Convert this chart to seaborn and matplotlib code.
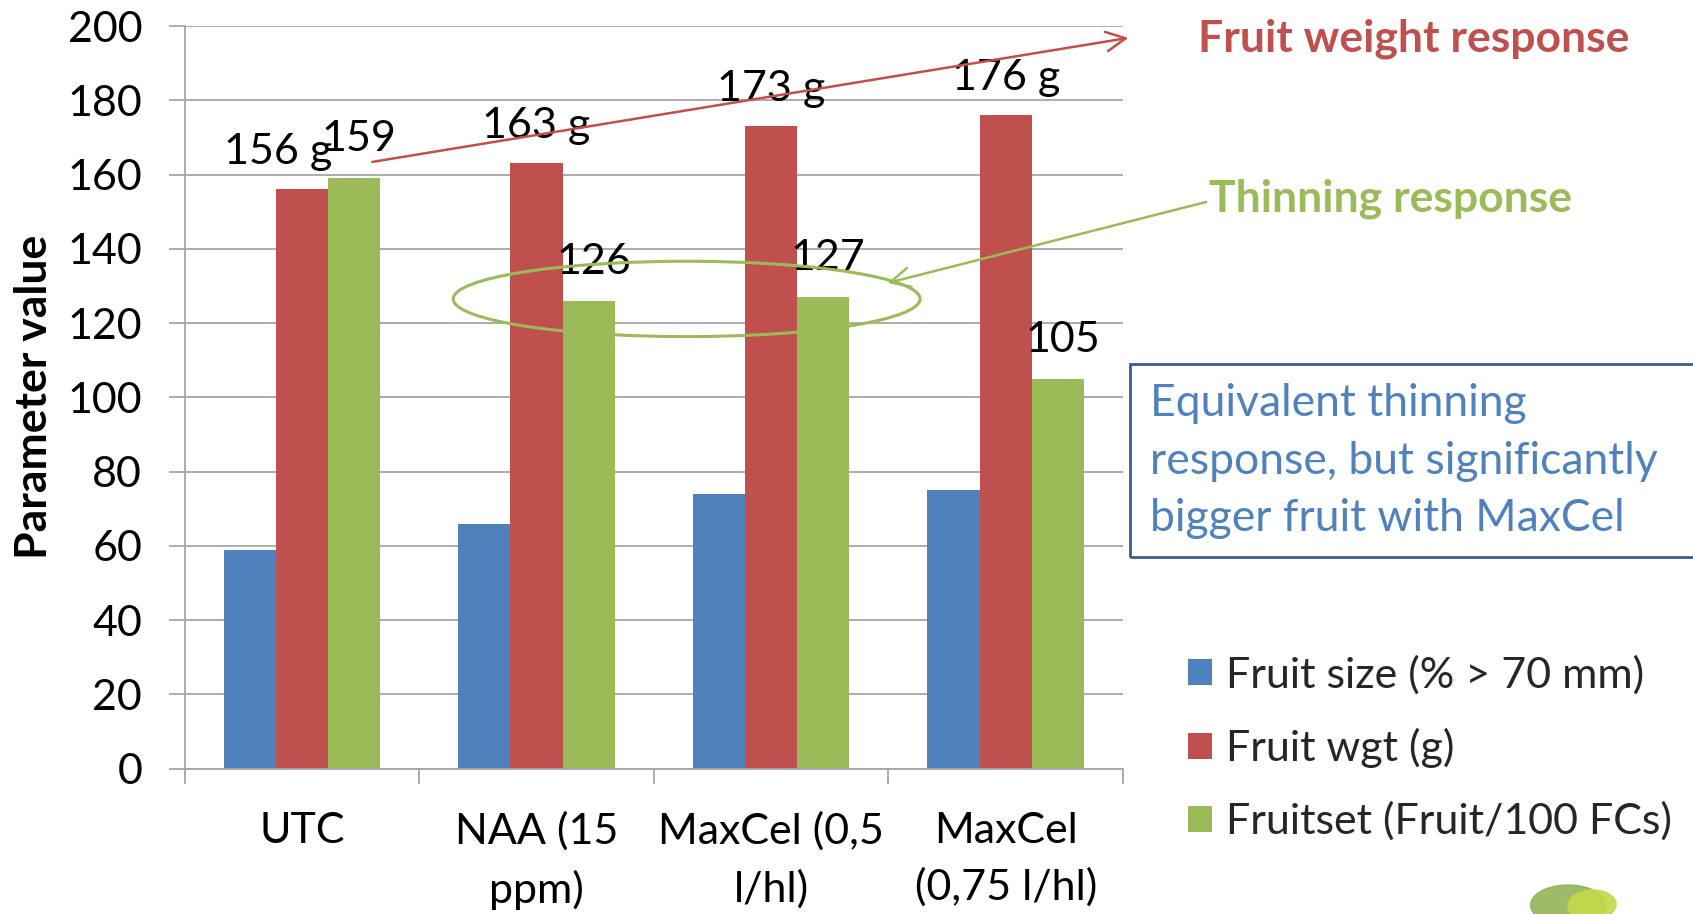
import matplotlib
matplotlib.use("Agg")
import matplotlib.pyplot as plt
import matplotlib.patches as mpatches
import seaborn as sns
import pandas as pd
import numpy as np

treatments = ["UTC", "NAA (15\nppm)", "MaxCel (0,5\nl/hl)", "MaxCel\n(0,75 l/hl)"]
series_names = ["Fruit size (% > 70 mm)", "Fruit wgt (g)", "Fruitset (Fruit/100 FCs)"]
fruit_size = [59, 66, 74, 75]
fruit_wgt = [156, 163, 173, 176]
fruitset = [159, 126, 127, 105]
colors = ["#4F81BD", "#C0504D", "#9BBB59"]
y_ticks = [0, 20, 40, 60, 80, 100, 120, 140, 160, 180, 200]

rows = []
for name, vals in zip(series_names, [fruit_size, fruit_wgt, fruitset]):
    for t, v in zip(treatments, vals):
        rows.append({"Treatment": t, "Parameter": name, "Value": v})
df = pd.DataFrame(rows)

sns.set_theme(style="white")
plt.rcParams["font.family"] = ["Lato", "DejaVu Sans"]

W, H = 1693, 914
fig = plt.figure(figsize=(W / 100, H / 100), dpi=100)
ax = fig.add_axes([184.6 / W, 1 - 768.7 / H, (1123 - 184.6) / W, (768.7 - 26) / H])

sns.barplot(data=df, x="Treatment", y="Value", hue="Parameter", palette=colors,
            width=0.667, saturation=1, linewidth=0, ax=ax, legend=True)

ax.set_ylim(0, 200)
ax.set_xlim(-0.5, 3.5)
ax.set_yticks(y_ticks)
ax.yaxis.grid(True, color="#a6a6a6", lw=1.3)
ax.set_axisbelow(True)
for s in ["top", "right"]:
    ax.spines[s].set_visible(False)
for s in ["left", "bottom"]:
    ax.spines[s].set_color("#a6a6a6")
    ax.spines[s].set_linewidth(1.3)

tick_fs = 31
ax.tick_params(axis="y", which="major", length=11.5, width=1.3, color="#a6a6a6",
               direction="out", pad=19, labelsize=tick_fs, labelcolor="black", left=True)
ax.set_xticks(range(len(treatments)))
ax.set_xticklabels(treatments, fontsize=tick_fs, linespacing=1.55)
ax.set_xticks(np.arange(-0.5, len(treatments), 1.0), minor=True)
ax.tick_params(axis="x", which="major", length=0, pad=31, labelcolor="black")
ax.tick_params(axis="x", which="minor", length=11, width=1.3, color="#a6a6a6",
               direction="out", bottom=True)
ax.set_xlabel("")
ax.set_ylabel("Parameter value", fontsize=32, fontweight="bold", color="black")
ax.yaxis.set_label_coords(-0.139, 0.5)

# data labels
label_fs = 31
red_dx = [-0.1, 0, 0, 0]
red_bars = ax.containers[1]
green_bars = ax.containers[2]
for i, (bar, v) in enumerate(zip(red_bars, fruit_wgt)):
    xc = bar.get_x() + bar.get_width() / 2 + red_dx[i]
    ax.text(xc, v + 10, f"{v} g", ha="center", va="center", fontsize=label_fs, color="black")
for bar, v in zip(green_bars, fruitset):
    xc = bar.get_x() + bar.get_width() / 2
    ax.text(xc + 0.02, v + 10.5, f"{v}", ha="center", va="center", fontsize=label_fs, color="black")

# legend
handles, labels = ax.get_legend_handles_labels()
ax.legend(handles, labels, loc="upper left", bbox_to_anchor=(1188 / W, 1 - 655 / H),
          bbox_transform=fig.transFigure, frameon=False, fontsize=31,
          handlelength=0.56, handleheight=0.56, handletextpad=0.33, labelspacing=0.78,
          borderpad=0, borderaxespad=0)

# red arrow (fruit weight response)
ax.annotate("", xy=(3.523, 196.8), xytext=(0.30, 163.4), annotation_clip=False,
            arrowprops=dict(arrowstyle="->", color="#C0504D", lw=1.8, mutation_scale=35,
                            shrinkA=0, shrinkB=0))
fig.text(1198 / W, 1 - 39 / H, "Fruit weight response", ha="left", va="center",
         fontsize=32, fontweight="bold", color="#C0504D")

# green arrow + ellipse (thinning response)
ax.annotate("", xy=(2.497, 130.8), xytext=(3.854, 152.6), annotation_clip=False,
            arrowprops=dict(arrowstyle="->", color="#9BBB59", lw=1.8, mutation_scale=35,
                            shrinkA=0, shrinkB=0))
fig.text(1209 / W, 1 - 199 / H, "Thinning response", ha="left", va="center",
         fontsize=32, fontweight="bold", color="#9BBB59")
ell = mpatches.Ellipse((1.64, 126.5), 1.99, 20.3, fill=False, edgecolor="#9BBB59", lw=2.2,
                       clip_on=False, zorder=5)
ax.add_patch(ell)

# text box
box = mpatches.Rectangle((1130 / W, 1 - 557 / H), 600 / W, 193 / H, transform=fig.transFigure,
                         fill=False, edgecolor="#385D8A", lw=2, clip_on=False)
fig.patches.append(box)
fig.text(1150 / W, 1 - 461 / H,
         "Equivalent thinning\nresponse, but significantly\nbigger fruit with MaxCel",
         ha="left", va="center", fontsize=32, color="#4F81BD", linespacing=1.49)

# small leaf logo at bottom right
leaf1 = mpatches.Ellipse((1568 / W, 1 - 905 / H), 75 / W, 40 / H, angle=15,
                         transform=fig.transFigure, color="#8DAF4F", alpha=0.85)
leaf2 = mpatches.Ellipse((1592 / W, 1 - 905 / H), 48 / W, 30 / H, angle=-10,
                         transform=fig.transFigure, color="#C5D84A", alpha=0.9)
fig.patches.extend([leaf1, leaf2])

fig.savefig("out.png", dpi=100)
